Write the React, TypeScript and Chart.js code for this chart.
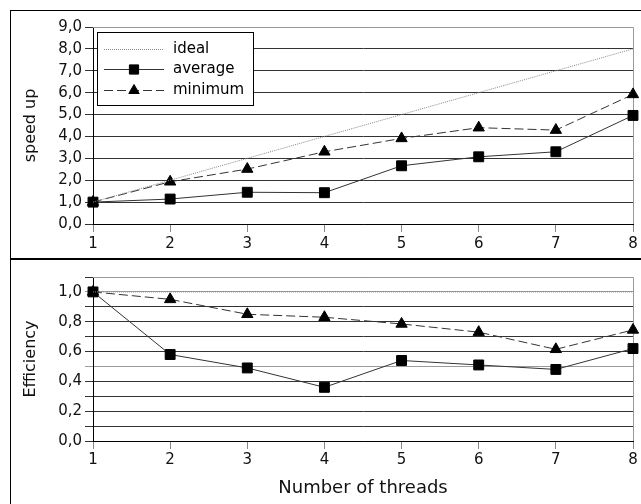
import React, { useEffect, useRef } from 'react';
import { Chart, registerables } from 'chart.js';

Chart.register(...registerables);

const threads = ['1', '2', '3', '4', '5', '6', '7', '8'];
const seriesNames = ['ideal', 'average', 'minimum'];
const idealSpeedup = [1, 2, 3, 4, 5, 6, 7, 8];
const avgSpeedup = [1.0, 1.14, 1.45, 1.43, 2.66, 3.07, 3.3, 4.96];
const minSpeedup = [1.0, 1.93, 2.51, 3.3, 3.91, 4.4, 4.29, 5.92];
const idealEff = [1, 1, 1, 1, 1, 1, 1, 1];
const avgEff = [1.0, 0.58, 0.49, 0.36, 0.54, 0.51, 0.48, 0.62];
const minEff = [1.0, 0.95, 0.85, 0.83, 0.785, 0.73, 0.615, 0.745];

const FONT = 'DejaVu Sans';
const GRID = '#333333';
const FRAME = '#999999';
const LINE = '#333333';

const fmt = (v: number) => v.toFixed(1).replace('.', ',');

function drawMarker(ctx: CanvasRenderingContext2D, style: string, x: number, y: number, r: number) {
  ctx.save();
  ctx.fillStyle = '#000';
  ctx.strokeStyle = '#000';
  ctx.lineWidth = 1;
  ctx.setLineDash([]);
  ctx.beginPath();
  if (style === 'rect') {
    const s = Math.SQRT1_2 * r;
    ctx.rect(x - s, y - s, 2 * s, 2 * s);
  } else if (style === 'triangle') {
    const a = Math.sin(Math.PI / 3) * r;
    ctx.moveTo(x, y - r);
    ctx.lineTo(x + a, y + r / 2);
    ctx.lineTo(x - a, y + r / 2);
    ctx.closePath();
  }
  ctx.fill();
  ctx.stroke();
  ctx.restore();
}

const framePlugin = {
  id: 'frame',
  beforeDatasetsDraw(chart: any) {
    const { ctx, chartArea } = chart;
    ctx.save();
    ctx.strokeStyle = FRAME;
    ctx.lineWidth = 1;
    ctx.beginPath();
    ctx.moveTo(Math.round(chartArea.left), Math.round(chartArea.top) + 0.5);
    ctx.lineTo(Math.round(chartArea.right) + 0.5, Math.round(chartArea.top) + 0.5);
    ctx.lineTo(Math.round(chartArea.right) + 0.5, Math.round(chartArea.bottom));
    ctx.stroke();
    ctx.restore();
  },
};

const boxLegendPlugin = {
  id: 'boxLegend',
  afterDatasetsDraw(chart: any, _args: any, opts: any) {
    if (!opts || !opts.show) return;
    const { ctx, chartArea } = chart;
    const x0 = Math.round(chartArea.left) + 4;
    const y0 = Math.round(chartArea.top) + 5;
    const w = 157;
    const h = 74;
    const rows = [17, 37, 58];
    ctx.save();
    ctx.fillStyle = '#fff';
    ctx.fillRect(x0, y0, w, h);
    ctx.strokeStyle = '#000';
    ctx.lineWidth = 1;
    ctx.strokeRect(x0 + 0.5, y0 + 0.5, w - 1, h - 1);
    chart.data.datasets.forEach((ds: any, i: number) => {
      const y = y0 + rows[i] + 0.5;
      ctx.strokeStyle = ds.borderColor;
      ctx.lineWidth = ds.borderWidth;
      ctx.setLineDash(ds.borderDash || []);
      ctx.beginPath();
      ctx.moveTo(x0 + 7, y);
      ctx.lineTo(x0 + 67, y);
      ctx.stroke();
      ctx.setLineDash([]);
      if (ds.pointRadius > 0) drawMarker(ctx, ds.pointStyle, x0 + 37, y, ds.pointRadius - 0.5);
      ctx.fillStyle = '#000';
      ctx.font = `15px "${FONT}"`;
      ctx.textBaseline = 'middle';
      ctx.textAlign = 'left';
      ctx.fillText(ds.label, x0 + 76, y);
    });
    ctx.restore();
  },
};

function makeDatasets(ideal: number[], avg: number[], min: number[]) {
  return [
    {
      label: seriesNames[0],
      data: ideal,
      borderColor: '#8a8a8a',
      borderWidth: 1,
      borderDash: [1, 1],
      pointRadius: 0,
      pointStyle: 'circle',
      clip: false,
    },
    {
      label: seriesNames[1],
      data: avg,
      borderColor: LINE,
      borderWidth: 1,
      borderDash: [],
      pointStyle: 'rect',
      pointRadius: 7,
      pointBackgroundColor: '#000',
      pointBorderColor: '#000',
      pointBorderWidth: 1,
      clip: false,
    },
    {
      label: seriesNames[2],
      data: min,
      borderColor: LINE,
      borderWidth: 1,
      borderDash: [9, 4],
      pointStyle: 'triangle',
      pointRadius: 6.5,
      pointBackgroundColor: '#000',
      pointBorderColor: '#000',
      pointBorderWidth: 1,
      clip: false,
    },
  ];
}

function makeConfig(opts: {
  datasets: any[];
  yMax: number;
  yStep: number;
  yTitle: string;
  yLabel: (v: number) => string;
  gridColor: (v: number) => string;
  xTitle: string | null;
  xHeight: number;
  padTop: number;
  tickPad: number;
  legend: boolean;
}): any {
  return {
    type: 'line',
    data: { labels: threads, datasets: opts.datasets },
    plugins: [framePlugin, boxLegendPlugin],
    options: {
      animation: false,
      responsive: false,
      maintainAspectRatio: false,
      events: [],
      layout: { padding: { top: opts.padTop, right: 7, left: 0, bottom: 0 } },
      elements: { line: { tension: 0 } },
      plugins: {
        legend: { display: false },
        tooltip: { enabled: false },
        boxLegend: { show: opts.legend },
      },
      scales: {
        x: {
          type: 'category',
          offset: false,
          grid: {
            drawOnChartArea: false,
            drawTicks: true,
            tickLength: 8,
            color: '#888',
          },
          border: { display: true, color: '#000', width: 1 },
          ticks: {
            color: '#111',
            padding: opts.tickPad,
            maxRotation: 0,
            autoSkip: false,
            font: { family: FONT, size: 15 },
          },
          title: opts.xTitle
            ? {
                display: true,
                text: opts.xTitle,
                color: '#111',
                font: { family: FONT, size: 18 },
                padding: { top: 0, bottom: 5 },
              }
            : { display: false },
          afterFit: (s: any) => {
            s.height = opts.xHeight;
          },
        },
        y: {
          type: 'linear',
          min: 0,
          max: opts.yMax,
          grid: {
            drawOnChartArea: true,
            drawTicks: true,
            tickLength: 8,
            color: (c: any) => opts.gridColor(c.tick ? c.tick.value : 0),
            lineWidth: 1,
          },
          border: { display: true, color: '#000', width: 1 },
          ticks: {
            stepSize: opts.yStep,
            autoSkip: false,
            color: '#111',
            padding: 3,
            font: { family: FONT, size: 15 },
            callback: (v: any) => opts.yLabel(Number(v)),
          },
          title: {
            display: true,
            text: opts.yTitle,
            color: '#111',
            font: { family: FONT, size: 16 },
            padding: { top: 10, bottom: 0 },
          },
          afterFit: (s: any) => {
            s.width = 82;
          },
        },
      },
    },
  };
}

function ChartCanvas({ config, width, height, style }: { config: any; width: number; height: number; style: React.CSSProperties }) {
  const ref = useRef<HTMLCanvasElement | null>(null);
  useEffect(() => {
    if (!ref.current) return;
    const chart = new Chart(ref.current, config);
    return () => chart.destroy();
  }, []);
  return <canvas ref={ref} width={width} height={height} style={{ position: 'absolute', width, height, ...style }} />;
}

export default function App() {
  const topConfig = makeConfig({
    datasets: makeDatasets(idealSpeedup, avgSpeedup, minSpeedup),
    yMax: 9,
    yStep: 1,
    yTitle: 'speed up',
    yLabel: (v) => fmt(v),
    gridColor: () => GRID,
    xTitle: null,
    xHeight: 34,
    padTop: 16,
    tickPad: 3,
    legend: true,
  });
  const bottomConfig = makeConfig({
    datasets: makeDatasets(idealEff, avgEff, minEff),
    yMax: 1.1,
    yStep: 0.1,
    yTitle: 'Efficiency',
    yLabel: (v) => {
      const n = Math.round(v * 10);
      return n % 2 === 0 && n <= 10 ? fmt(n / 10) : '';
    },
    gridColor: (v) => {
      const n = Math.round(v * 10);
      return n === 5 || n === 10 ? '#9a9a9a' : GRID;
    },
    xTitle: 'Number of threads',
    xHeight: 63,
    padTop: 17,
    tickPad: 2,
    legend: false,
  });
  return (
    <div style={{ position: 'absolute', left: 0, top: 0, width: 641, height: 504, overflow: 'hidden', background: '#fff' }}>
      <div
        style={{
          position: 'absolute',
          left: 10,
          top: 10,
          width: 660,
          height: 249,
          boxSizing: 'border-box',
          borderLeft: '1px solid #000',
          borderTop: '1px solid #000',
          borderBottom: '1px solid #000',
        }}
      />
      <div
        style={{
          position: 'absolute',
          left: 10,
          top: 259,
          width: 660,
          height: 260,
          boxSizing: 'border-box',
          borderLeft: '1px solid #000',
          borderTop: '1px solid #000',
        }}
      />
      <ChartCanvas config={topConfig} width={630} height={247} style={{ left: 11, top: 11 }} />
      <ChartCanvas config={bottomConfig} width={630} height={244} style={{ left: 11, top: 260 }} />
    </div>
  );
}
